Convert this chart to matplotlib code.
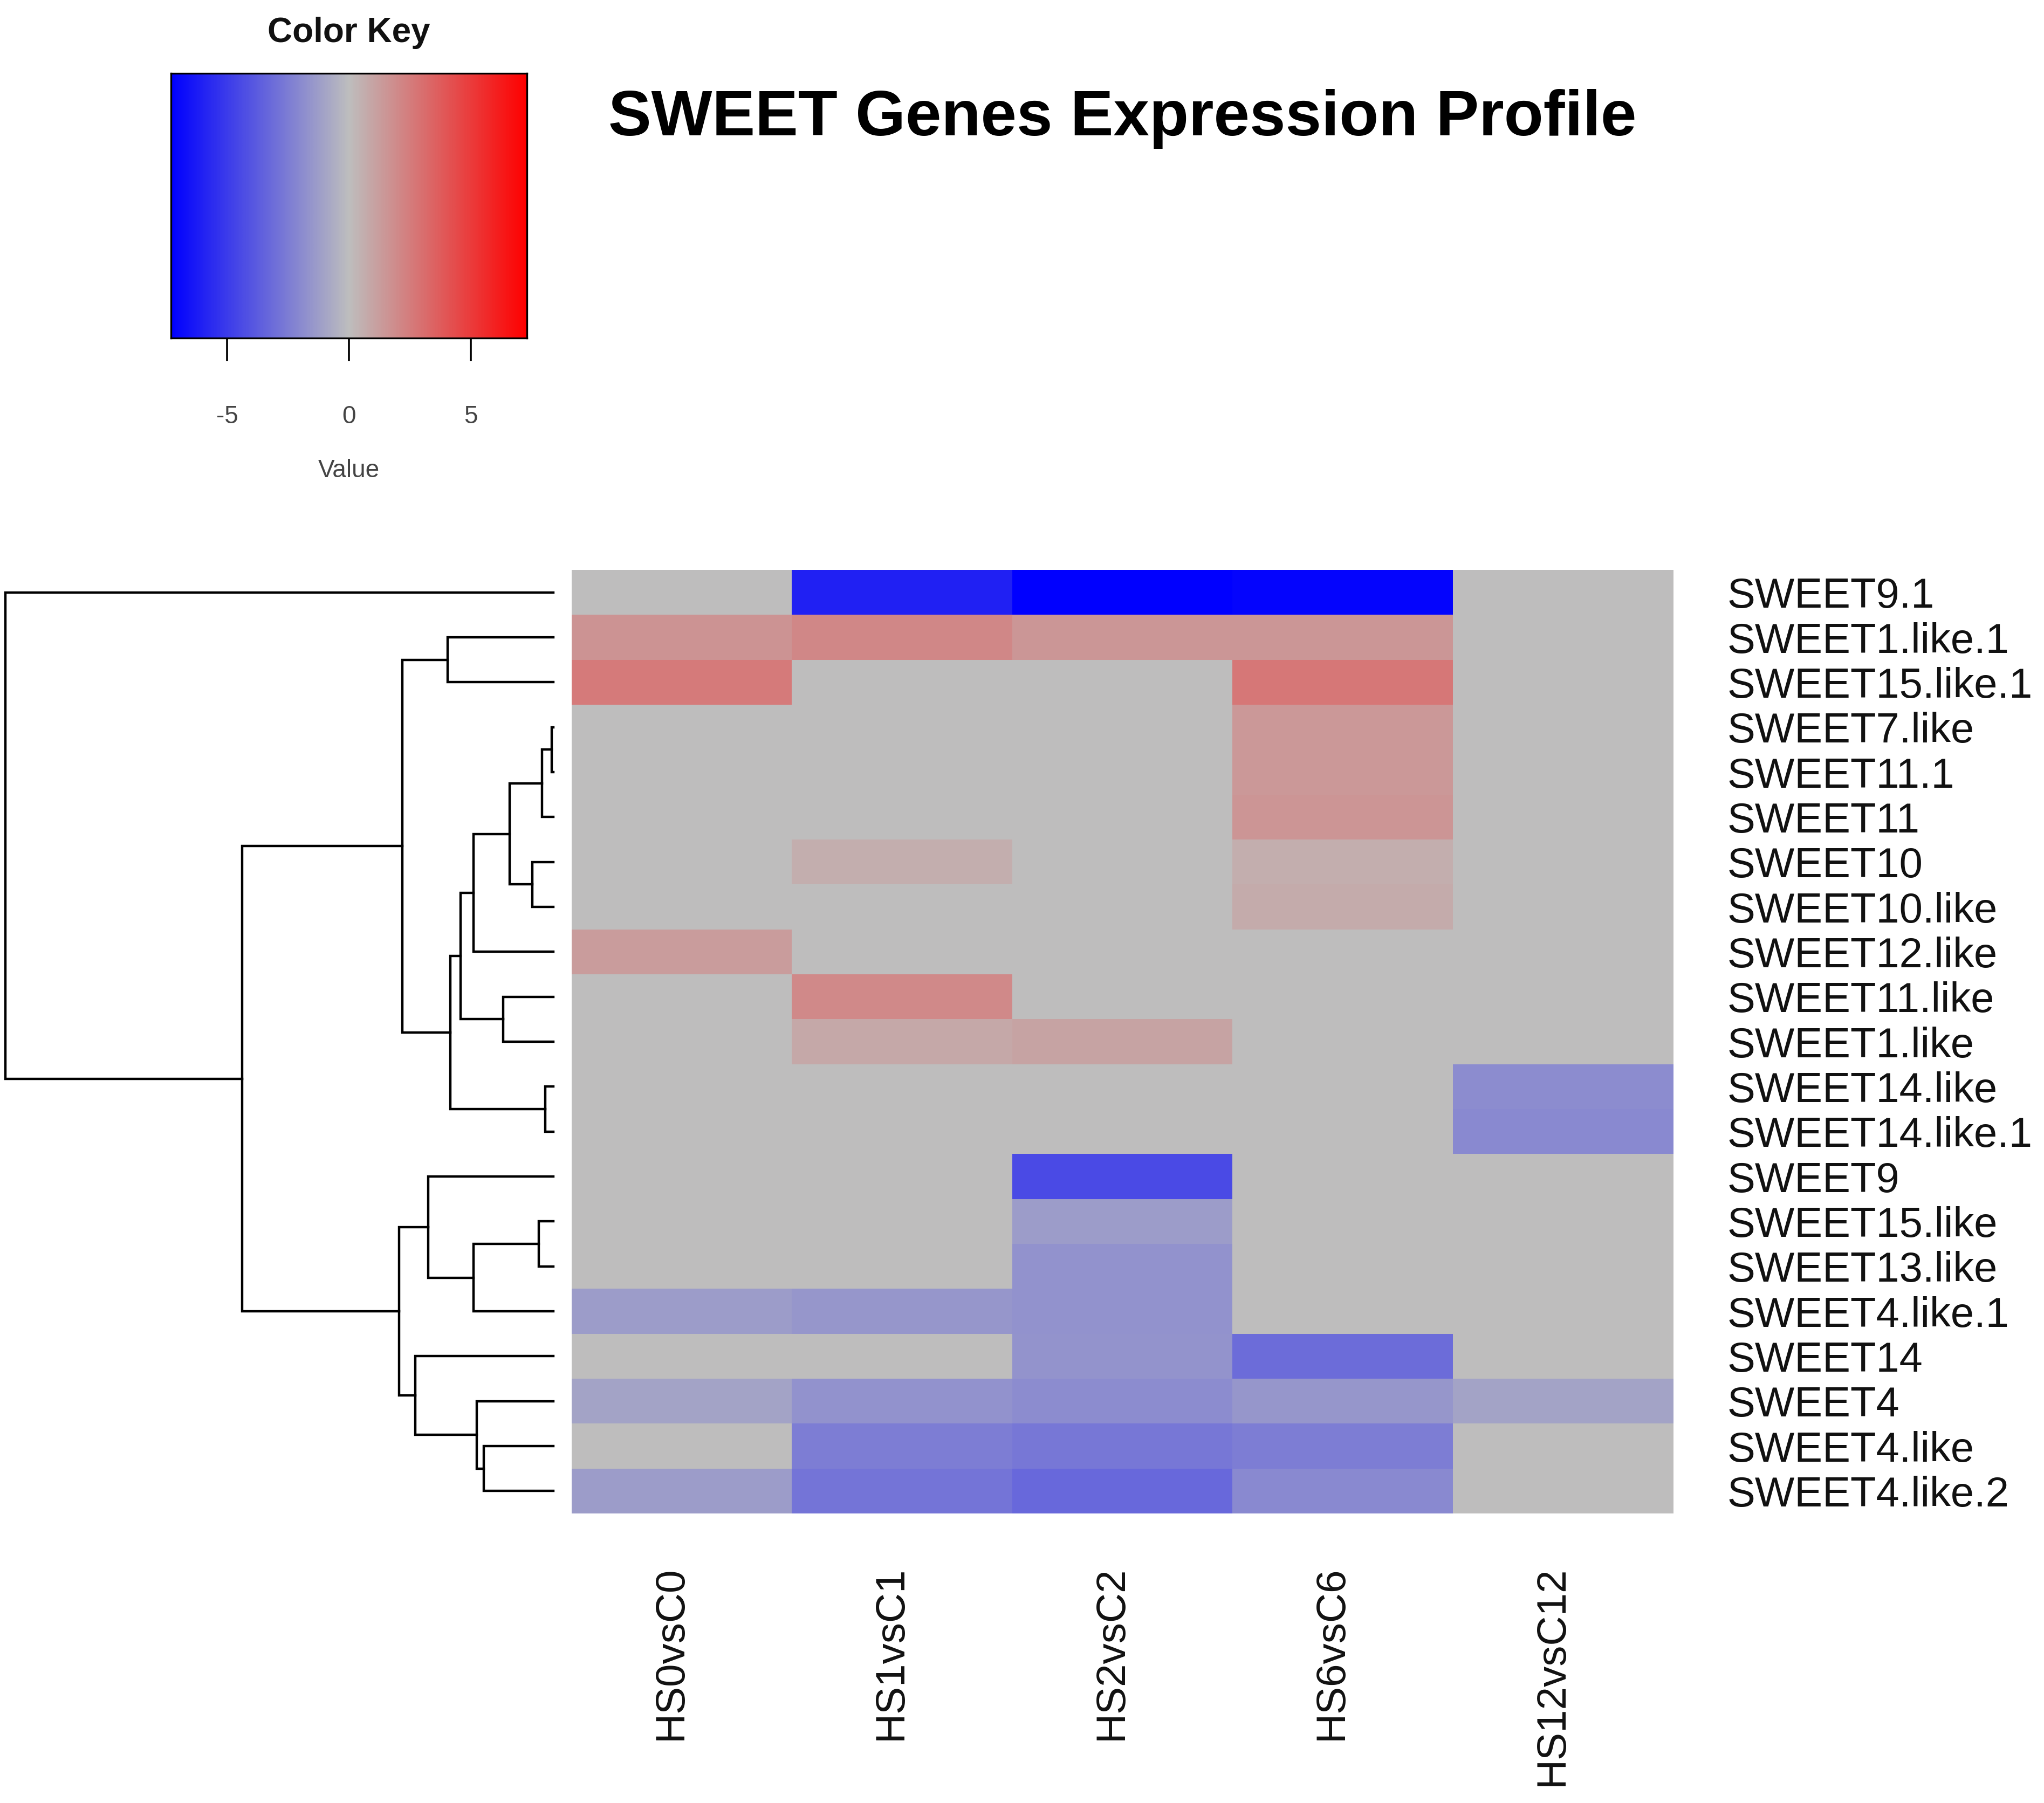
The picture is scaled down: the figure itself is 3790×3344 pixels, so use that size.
import numpy as np
import matplotlib
matplotlib.use("Agg")
import matplotlib.pyplot as plt
from matplotlib.colors import LinearSegmentedColormap

plt.rcParams['font.family'] = ['Liberation Sans', 'DejaVu Sans']
plt.rcParams['axes.unicode_minus'] = False

# ---------------- data ----------------
genes = ["SWEET9.1", "SWEET1.like.1", "SWEET15.like.1", "SWEET7.like", "SWEET11.1",
         "SWEET11", "SWEET10", "SWEET10.like", "SWEET12.like", "SWEET11.like",
         "SWEET1.like", "SWEET14.like", "SWEET14.like.1", "SWEET9", "SWEET15.like",
         "SWEET13.like", "SWEET4.like.1", "SWEET14", "SWEET4", "SWEET4.like",
         "SWEET4.like.2"]
conditions = ["HS0vsC0", "HS1vsC1", "HS2vsC2", "HS6vsC6", "HS12vsC12"]

hs0 = [0, 1.6, 2.6, 0, 0, 0, 0, 0, 1.3, 0, 0, 0, 0, 0, 0, 0, -1.3, 0, -1.0, 0, -1.3]
hs1 = [-6.0, 2.1, 0, 0, 0, 0, 0.6, 0, 0, 2.0, 0.8, 0, 0, 0, 0, 0, -1.5, 0, -1.7, -2.5, -2.8]
hs2 = [-7.3, 1.5, 0, 0, 0, 0, 0, 0, 0, 0, 1.0, 0, 0, -4.4, -1.3, -1.7, -1.7, -1.6, -1.9, -2.7, -3.3]
hs6 = [-7.1, 1.5, 2.7, 1.45, 1.45, 1.55, 0.6, 0.7, 0, 0, 0, 0, 0, 0, 0, 0, 0, -3.1, -1.5, -2.5, -2.0]
hs12 = [0, 0, 0, 0, 0, 0, 0, 0, 0, 0, 0, -1.9, -2.0, 0, 0, 0, 0, 0, -1.0, 0, 0]

# row dendrogram merges: (left, right, height)
merges = [
    ("SWEET7.like", "SWEET11.1", 3),          # n0
    ("n0", "SWEET11", 21),                    # n1
    ("SWEET10", "SWEET10.like", 39),          # n2
    ("n1", "n2", 81),                         # n3
    ("n3", "SWEET12.like", 148),              # n4
    ("SWEET11.like", "SWEET1.like", 93),      # n5
    ("n4", "n5", 172),                        # n6
    ("SWEET14.like", "SWEET14.like.1", 15),   # n7
    ("n6", "n7", 191),                        # n8
    ("SWEET1.like.1", "SWEET15.like.1", 196), # n9
    ("n9", "n8", 280),                        # n10
    ("SWEET15.like", "SWEET13.like", 27),     # n11
    ("n11", "SWEET4.like.1", 148),            # n12
    ("SWEET9", "n12", 232),                   # n13
    ("SWEET4.like", "SWEET4.like.2", 129),    # n14
    ("SWEET4", "n14", 142),                   # n15
    ("SWEET14", "n15", 256),                  # n16
    ("n13", "n16", 286),                      # n17
    ("n10", "n17", 576),                      # n18
    ("SWEET9.1", "n18", 1015),                # n19 root
]

key_ticks = [-5, 0, 5]
vmax = 7.3

# ---------------- figure ----------------
W, H = 3790, 3344
fig = plt.figure(figsize=(W / 100, H / 100), dpi=100)

def fx(px):
    return px / W

def fy(py):
    return 1 - py / H

cmap = LinearSegmentedColormap.from_list("bgr", ["#0000FF", "#BEBEBE", "#FF0000"], N=256)

# heatmap
hm_l, hm_r, hm_t, hm_b = 1060, 3103, 1057, 2807
ax = fig.add_axes([fx(hm_l), fy(hm_b), fx(hm_r - hm_l), (hm_b - hm_t) / H])
data = np.array([hs0, hs1, hs2, hs6, hs12]).T
ax.imshow(data, cmap=cmap, vmin=-vmax, vmax=vmax, aspect='auto',
          interpolation='nearest', extent=(0, len(conditions), len(genes), 0))
ax.set_xlim(0, len(conditions))
ax.set_ylim(len(genes), 0)
for s in ax.spines.values():
    s.set_visible(False)
ax.set_xticks(np.arange(len(conditions)) + 0.45)
ax.set_xticklabels(conditions, rotation=90, fontsize=55, color='#111111')
ax.tick_params(axis='x', length=0, pad=70)
ax.yaxis.tick_right()
ax.set_yticks(np.arange(len(genes)) + 0.5)
ax.set_yticklabels(genes, fontsize=56, color='#111111')
ax.tick_params(axis='y', length=0, pad=72)

# dendrogram
dax = fig.add_axes([fx(10), fy(hm_b), fx(1026 - 10), (hm_b - hm_t) / H])
root_h = merges[-1][2]
dax.set_xlim(root_h, 0)
dax.set_ylim(len(genes), 0)
dax.axis('off')
pos = {g: (i + 0.5, 0.0) for i, g in enumerate(genes)}
for k, (a, b, h) in enumerate(merges):
    ya, ha = pos[a]
    yb, hb = pos[b]
    dax.plot([ha, h, h, hb], [ya, ya, yb, yb], color='black', lw=3.2,
             solid_joinstyle='miter', clip_on=False)
    pos["n%d" % k] = ((ya + yb) / 2, h)

# color key
kl, kr, kt, kb = 317, 977, 136, 627
kax = fig.add_axes([fx(kl), fy(kb), fx(kr - kl), (kb - kt) / H])
grad = np.linspace(-vmax, vmax, 512).reshape(1, -1)
kax.imshow(grad, cmap=cmap, vmin=-vmax, vmax=vmax, aspect='auto',
           extent=(-vmax, vmax, 0, 1), interpolation='bilinear')
kax.set_xlim(-vmax, vmax)
kax.set_ylim(0, 1)
kax.set_yticks([])
kax.set_xticks(key_ticks)
kax.set_xticklabels([str(t) for t in key_ticks], fontsize=33, color='#444444')
kax.tick_params(axis='x', direction='out', length=31, width=2.6, pad=58, color='black')
for s in kax.spines.values():
    s.set_color('black')
    s.set_linewidth(2.4)

fig.text(fx(647), fy(61), "Color Key", fontsize=46, fontweight='bold',
         ha='center', va='center', color='#111111')
fig.text(fx(647), fy(873), "Value", fontsize=33, ha='center', va='center', color='#444444')

# title
fig.text(fx(1128), fy(251), "SWEET Genes Expression Profile", fontsize=86,
         fontweight='bold', ha='left', va='baseline', color='black')

fig.savefig("out.png", dpi=100, facecolor='white')
